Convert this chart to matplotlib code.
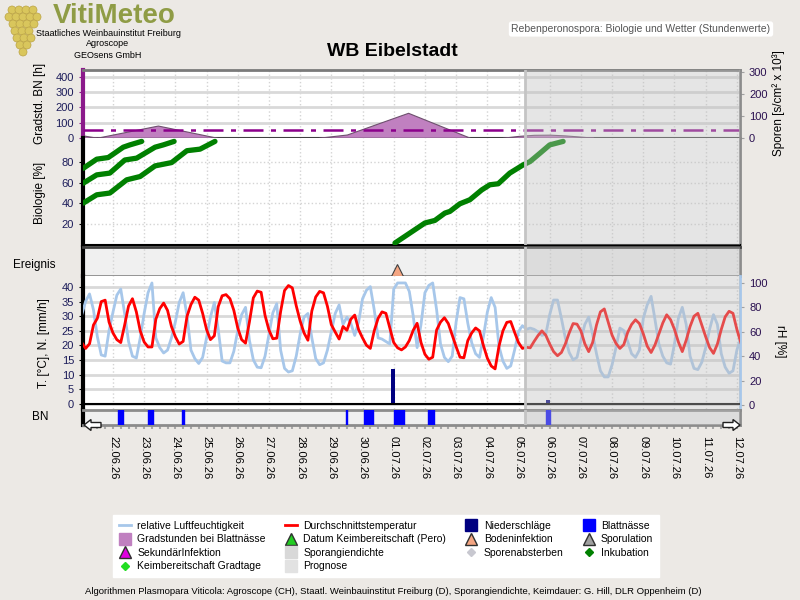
import matplotlib.pyplot as plt
import numpy as np
from matplotlib.lines import Line2D
from matplotlib.patches import Ellipse, FancyArrow
from matplotlib.ticker import MultipleLocator

plt.rcParams['font.family'] = ['Liberation Sans', 'DejaVu Sans']
plt.rcParams['font.size'] = 8

# ---------------- data (time = days after 22.06.26 00:00) ----------------
date_labels = ['22.06.26', '23.06.26', '24.06.26', '25.06.26', '26.06.26', '27.06.26',
               '28.06.26', '29.06.26', '30.06.26', '01.07.26', '02.07.26', '03.07.26',
               '04.07.26', '05.07.26', '06.07.26', '07.07.26', '08.07.26', '09.07.26',
               '10.07.26', '11.07.26', '12.07.26']

series_start = -1.0     # 21.06.26 00:00
series_step = 0.125     # 3-hourly readings
prognose_start = 13.2

# average temperature [°C]
temp = [21, 19, 20.6, 27, 29.3, 35, 35.5, 28,
        24.3, 22, 21, 27, 33.5, 36, 31.5, 25,
        21.2, 19.5, 19.5, 29, 32.6, 34.5, 32, 26.5,
        23, 20.5, 21.4, 30, 34, 36.5, 35.5, 31,
        25.5, 22, 23.3, 33.3, 37, 37.4, 36, 32,
        26, 22, 20.8, 28.1, 36.3, 38.6, 38.2, 30.3,
        25.3, 22.3, 22.5, 31.6, 38.8, 40.5, 39.7, 33.6,
        28.4, 24.3, 21.8, 31.8, 36.6, 38.5, 38, 33.4,
        27.1, 24.6, 22.2, 26.5, 25.2, 29, 30.4, 25.4,
        22.6, 20.1, 19, 25, 29.3, 31.5, 31, 26,
        21, 19.2, 18.5, 19.5, 21.7, 25.2, 27.6, 21,
        17, 15.3, 16, 25.3, 28, 29.5, 27.5, 23.6,
        19.6, 16, 15.8, 21.7, 24.3, 26, 25, 20,
        15.7, 13, 12, 19.8, 25, 27.9, 28.2, 24.5,
        21, 19, 19.4, 19.2, 21.4, 23.4, 25, 23.5,
        20.5, 17.9, 16.5, 17.6, 20.5, 24.3, 27.5, 27.3,
        25, 20.6, 17.9, 21, 27, 31.5, 32.5, 28,
        23.5, 20.7, 19, 20.3, 24.5, 27.2, 28.8, 27.5,
        24, 19.8, 17.6, 20.2, 24, 27.7, 30.5, 28.8,
        25.5, 21.2, 17.9, 21.8, 26.5, 30, 31, 27,
        23, 19.3, 17.3, 20.5, 25.5, 29.8, 31.7, 31,
        25.5, 21]

# relative humidity [%]
rh = [74, 85, 91, 78, 56, 41, 40, 61,
      76, 90, 95, 75, 52, 40, 38.5, 55,
      75, 92, 100, 55, 47, 42.6, 45, 55,
      68, 84, 92, 73, 45, 38, 34, 39,
      55, 72, 84, 62, 36, 34.5, 34.5, 44,
      61, 74, 80, 53, 37, 31, 30.5, 40,
      58, 75.5, 83, 45, 30, 27, 28, 40,
      58, 72, 75, 55, 38, 33, 34.5, 45,
      60, 75, 82, 66, 72, 67, 57, 68,
      87, 94, 97, 78, 55, 54, 52, 50,
      95, 100, 100, 100, 93, 73, 47, 66,
      92, 98, 100, 78, 50, 39, 35.5, 40,
      68, 88, 87, 67, 51, 42, 39, 56,
      76, 88, 80, 48, 36, 30, 32, 45,
      60, 65, 62, 63, 62, 60, 57, 58,
      74, 86, 86, 71, 55, 43, 37, 39,
      53, 66, 72, 58, 42, 28, 23, 23,
      33, 47, 63, 61, 52, 42, 39, 45,
      71, 82, 89, 70, 50, 40, 34.5, 33.5,
      50, 71, 80, 66, 40, 30, 29, 35,
      47, 62, 74, 66, 42, 31, 26, 28,
      45, 55]

# Gradstunden bei Blattnaesse [h]
grad1_t = [-0.96, -0.51, 1.44, 3.33]
grad1 = [15, 0, 80, 0]
grad2_t = [6.6, 7.5, 9.46, 11.44]
grad2 = [0, 21, 164, 0]
grad3_t = [12.5, 13.0, 13.5, 14.0, 14.5, 15.0, 15.4]
grad3 = [0, 12, 19, 20, 15, 7, 0]
gradstd_limit = 52

# Biologie [%] (Inkubation)
bio_a_t = [-0.95, -0.52, -0.15, 0.33, 0.54, 0.92]
bio_a = [74, 82.8, 84.4, 94.4, 96.6, 100]
bio_b_t = [-0.95, -0.52, -0.1, 0.38, 0.76, 1.35, 1.61, 1.96]
bio_b = [59.6, 67.6, 69.3, 82, 83.8, 94.4, 96.6, 100]
bio_c_t = [-0.95, -0.52, -0.1, 0.44, 0.87, 1.35, 1.88, 2.37, 2.79, 3.27]
bio_c = [40.3, 48.3, 50, 62.8, 66, 76.3, 79.5, 91, 92.5, 100]
bio_d_t = [9.04, 9.52, 10.0, 10.32, 10.64, 10.8, 11.12, 11.44, 11.82, 12.08,
           12.35, 12.72, 13.15, 13.37, 13.69, 14.0, 14.43]
bio_d = [1.6, 11.3, 21, 23.5, 30.6, 32.2, 39.6, 43.5, 53, 58,
         59, 69.3, 77.3, 80.5, 88.6, 96.6, 100]

boden_t = [9.1]
rain_t = [8.97, 13.94]
rain = [12, 1.4]
bn_start = [0.16, 1.12, 2.21, 7.47, 8.04, 9.0, 10.1, 13.88]
bn_end = [0.32, 1.28, 2.28, 7.50, 8.33, 9.33, 10.29, 14.0]

XMIN, XMAX = -0.96, 20.1
t = series_start + series_step * np.arange(len(temp))

# ---------------- figure ----------------
fig = plt.figure(figsize=(8, 6), dpi=100, facecolor='#ECE9E5')
L, W = 83 / 800, 657 / 800


def panel(top, bottom, face='white'):
    ax = fig.add_axes([L, 1 - bottom / 600, W, (bottom - top) / 600])
    ax.set_facecolor(face)
    ax.set_xlim(XMIN, XMAX)
    ax.set_xticks(range(len(date_labels)))
    ax.tick_params(axis='x', length=0, labelbottom=False)
    ax.grid(axis='x', color='#D4D4D4', ls=':', lw=1)
    ax.set_axisbelow(True)
    for s in ax.spines.values():
        s.set_color('#8C8C8C')
        s.set_linewidth(2)
    ax.spines['left'].set_color('black')
    ax.spines['left'].set_linewidth(3)
    ax.tick_params(axis='y', labelsize=8, labelcolor='#1C1C5A', length=3)
    return ax


def prognose(ax):
    ax.axvspan(prognose_start, XMAX, color='#BEBEBE', alpha=0.4, lw=0, zorder=20)
    ax.axvline(prognose_start, color='#C4C4C4', lw=2, zorder=21)


def right_twin(ax, color):
    tw = ax.twinx()
    for side in ['left', 'top', 'bottom']:
        tw.spines[side].set_visible(False)
    tw.spines['right'].set_color(color)
    tw.spines['right'].set_linewidth(2)
    ax.spines['right'].set_visible(False)
    tw.tick_params(axis='y', labelsize=8, labelcolor='#2A1050', length=3, color='#A0A0A0')
    return tw


# --- Gradstunden / Sporen ---
ax_g = panel(70, 138)
ax_g.set_ylim(-2, 446)
ax_g.set_yticks([0, 100, 200, 300, 400])
ax_g.grid(axis='y', color='#D9D9D9', lw=2)
ax_g.spines['left'].set_color('#8B1A8B')
ax_g.tick_params(axis='y', color='#8B1A8B')
ax_g.spines['bottom'].set_color('#404040')
ax_g.spines['bottom'].set_linewidth(1.5)
ax_g.spines['top'].set_color('#7A7A7A')
for gt, gv in [(grad1_t, grad1), (grad2_t, grad2), (grad3_t, grad3)]:
    ax_g.fill_between(gt, gv, 0, color='#C080C0', edgecolor='#6E506E', lw=0.8, zorder=3)
ax_g.axhline(gradstd_limit, color='#8B008B', lw=1.8, ls=(0, (8, 3, 2, 3)), zorder=4)
ax_sp = right_twin(ax_g, '#8C8C8C')
ax_sp.set_ylim(-1.4, 309)
ax_sp.set_yticks([0, 100, 200, 300])
prognose(ax_sp)

# --- Biologie ---
ax_b = panel(138, 245)
ax_b.set_ylim(-0.3, 103.3)
ax_b.set_yticks([20, 40, 60, 80])
ax_b.grid(axis='y', color='#D4D4D4', ls=':', lw=1)
ax_b.spines['top'].set_visible(False)
ax_b.spines['bottom'].set_color('black')
ax_b.spines['bottom'].set_linewidth(1.5)
for bt, bv in [(bio_a_t, bio_a), (bio_b_t, bio_b), (bio_c_t, bio_c), (bio_d_t, bio_d)]:
    ax_b.plot(bt, bv, color='#008000', lw=3.8, solid_capstyle='round', zorder=5)
prognose(ax_b)

# --- Ereignis ---
ax_e = panel(247, 276, face='#F0F0F0')
ax_e.set_ylim(0, 1)
ax_e.set_yticks([])
ax_e.spines['top'].set_color('#404040')
ax_e.plot(boden_t, [0.2] * len(boden_t), ls='none', marker='^', ms=8,
          color='#F4A582', mec='#404040', mew=0.8, clip_on=False, zorder=6)
prognose(ax_e)

# --- Temperatur / Niederschlag / rH ---
ax_t = panel(276, 409)
ax_t.set_ylim(-1.71, 43.76)
ax_t.set_yticks(range(0, 41, 5))
ax_t.grid(axis='y', color='#D9D9D9', lw=2)
ax_t.spines['top'].set_visible(False)
ax_t.spines['bottom'].set_visible(False)
ax_rh = right_twin(ax_t, '#A7C7EA')
ax_rh.set_ylim(-3.3, 105.7)
ax_rh.set_yticks(range(0, 101, 20))
ax_rh.plot(t, rh, color='#A7C7EA', lw=2)
ax_t2 = ax_t.twinx()
ax_t2.set_ylim(ax_t.get_ylim())
ax_t2.axis('off')
ax_t2.plot(t, temp, color='#FF0000', lw=2, zorder=4)
ax_t2.bar(rain_t, rain, width=0.13, color='#000080', zorder=5)
ax_t2.axhline(0, color='black', lw=1.5, zorder=6)
prognose(ax_t2)

# --- BN ---
ax_n = panel(410, 425, face='#F0F0F0')
ax_n.set_ylim(0, 1)
ax_n.set_yticks([])
ax_n.grid(False)
ax_n.broken_barh([(s, e - s) for s, e in zip(bn_start, bn_end)], (0, 1), color='#0000FF', zorder=3)
ax_n.xaxis.set_minor_locator(MultipleLocator(0.25))
ax_n.tick_params(axis='x', which='both', length=3, color='#A8A8A8', width=1.5,
                 labelbottom=True, labelsize=8, pad=5)
ax_n.set_xticklabels(date_labels, rotation=270)
prognose(ax_n)

for x0, dx in [(101, -17), (723, 17)]:
    fig.add_artist(FancyArrow(x0 / 800, 1 - 425 / 600, dx / 800, 0, width=5 / 600,
                              head_width=11 / 600, head_length=7 / 800,
                              length_includes_head=True, transform=fig.transFigure,
                              fc='white', ec='#202020', lw=1, zorder=30))

# --- axis labels ---
fig.text(40 / 800, 1 - 103 / 600, 'Gradstd. BN [h]', rotation=90, ha='center', va='center', fontsize=8.5)
fig.text(40 / 800, 1 - 193 / 600, 'Biologie [%]', rotation=90, ha='center', va='center', fontsize=8.5)
fig.text(13 / 800, 1 - 265 / 600, 'Ereignis', ha='left', va='center', fontsize=8.5)
fig.text(44 / 800, 1 - 343 / 600, 'T. [°C], N. [mm/h]', rotation=90, ha='center', va='center', fontsize=8.5)
fig.text(40 / 800, 1 - 417 / 600, 'BN', ha='center', va='center', fontsize=8.5)
fig.text(779 / 800, 1 - 103 / 600, 'Sporen [s/cm² x 10³]', rotation=90, ha='center', va='center', fontsize=8.5)
fig.text(780 / 800, 1 - 341 / 600, 'rH [%]', rotation=270, ha='center', va='center', fontsize=8.5)

# --- titles / header ---
fig.text(392 / 800, 1 - 52 / 600, 'WB Eibelstadt', ha='center', va='center', fontsize=14, fontweight='bold')
fig.text(641 / 800, 1 - 29 / 600, 'Rebenperonospora: Biologie und Wetter (Stundenwerte)',
         ha='center', va='center', fontsize=7.5, color='#555555',
         bbox=dict(boxstyle='round,pad=0.25', fc='white', ec='none'))
fig.text(114 / 800, 1 - 16 / 600, 'VitiMeteo', ha='center', va='center', fontsize=20,
         fontweight='bold', color='#8F9C45')
for yy, txt in [(33, 'Staatliches Weinbauinstitut Freiburg'), (44, 'Agroscope'), (55, 'GEOsens GmbH')]:
    fig.text(108 / 800, 1 - yy / 600, txt, ha='center', va='center', fontsize=6.5)
# grape logo
for gy, xs in [(10, [12, 19, 26, 33]), (17, [9, 16, 23, 30, 37]), (24, [13, 20, 27, 34]),
               (31, [15, 22, 29]), (38, [17, 24, 31]), (45, [20, 27]), (52, [23])]:
    for gx in xs:
        fig.add_artist(Ellipse((gx / 800, 1 - gy / 600), 8 / 800, 8 / 600,
                               transform=fig.transFigure, fc='#D9C65C', ec='#BBA344', lw=0.5))

# --- legend ---
def mk(marker, color, ms=9, mec=None):
    return Line2D([], [], ls='none', marker=marker, ms=ms, color=color, mec=mec or color)


handles = [Line2D([], [], color='#A7C7EA', lw=2), mk('s', '#C080C0'), mk('^', '#E000E0', 8, '#303030'),
           mk('D', '#22DD22', 4),
           Line2D([], [], color='#FF0000', lw=2), mk('^', '#22CC22', 8, '#303030'), mk('s', '#D8D8D8'),
           mk('s', '#E2E2E2'),
           mk('s', '#000080'), mk('^', '#F4A582', 8, '#303030'), mk('D', '#C8C8D0', 4),
           mk('s', '#0000FF'), mk('^', '#A0A0A0', 8, '#303030'), mk('D', '#008000', 4)]
labels = ['relative Luftfeuchtigkeit', 'Gradstunden bei Blattnässe', 'SekundärInfektion',
          'Keimbereitschaft Gradtage',
          'Durchschnittstemperatur', 'Datum Keimbereitschaft (Pero)', 'Sporangiendichte', 'Prognose',
          'Niederschläge', 'Bodeninfektion', 'Sporenabsterben',
          'Blattnässe', 'Sporulation', 'Inkubation']
fig.legend(handles, labels, loc='center', bbox_to_anchor=(386 / 800, 1 - 546 / 600), ncol=4,
           fontsize=7.5, frameon=True, facecolor='white', edgecolor='white', fancybox=False,
           framealpha=1, handlelength=1.2, handletextpad=0.6, columnspacing=1.8,
           labelspacing=0.35, borderpad=0.5)

fig.text(393 / 800, 1 - 591 / 600,
         'Algorithmen Plasmopara Viticola: Agroscope (CH), Staatl. Weinbauinstitut Freiburg (D), '
         'Sporangiendichte, Keimdauer: G. Hill, DLR Oppenheim (D)',
         ha='center', va='center', fontsize=6.8)

fig.savefig('out.png', dpi=100, facecolor=fig.get_facecolor())
